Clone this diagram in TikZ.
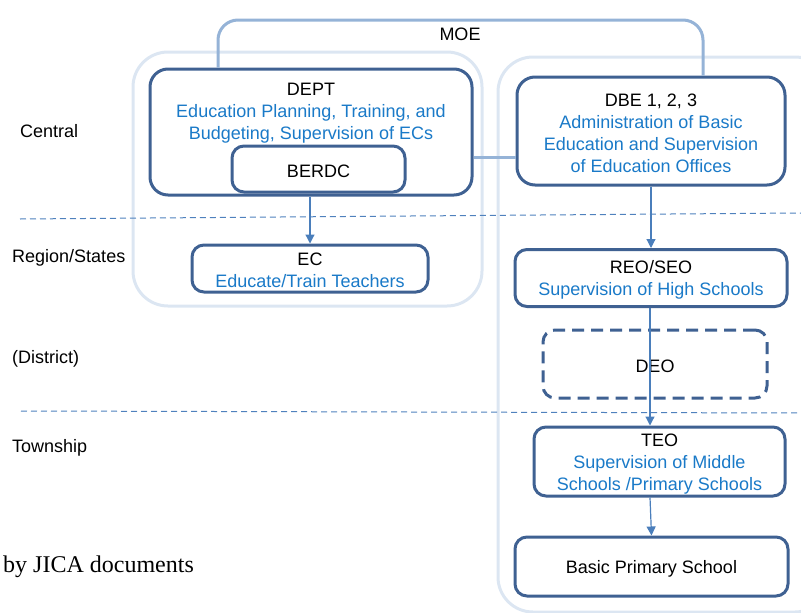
\documentclass[tikz,border=0pt]{standalone}
\usepackage{fontspec}
\setmainfont{Liberation Sans}
\newfontfamily\seriffont{Liberation Serif}
\usetikzlibrary{arrows.meta}
\definecolor{boxc}{HTML}{3F6192}
\definecolor{txtb}{HTML}{1A7AC8}
\definecolor{contc}{HTML}{DCE6F2}
\definecolor{moec}{HTML}{95B3D7}
\definecolor{arrc}{HTML}{4A7EBB}
\definecolor{sepc}{HTML}{4F81BD}
\newcommand{\tup}{\rule{0pt}{17pt}}
\begin{document}
\begin{tikzpicture}[x=1pt,y=-1pt,font=\fontsize{18}{22}\selectfont,
  box/.style={draw=boxc,line width=3pt,rounded corners=12pt,fill=white,align=center,inner sep=0pt},
  bigbox/.style={box,rounded corners=18pt},
  dashbox/.style={box,fill=none,dash pattern=on 12pt off 7pt},
  cont/.style={draw=contc,line width=3pt,rounded corners=35pt},
  moeline/.style={draw=moec,line width=3pt,rounded corners=20pt},
  arr/.style={draw=arrc,line width=1.2pt,-{Triangle[width=9pt,length=9pt]}},
  sep/.style={draw=sepc,line width=1pt,dash pattern=on 6pt off 4pt},
  lvl/.style={anchor=west,inner sep=0pt}]
\useasboundingbox (0,0) rectangle (801,613);
\begin{scope}
\clip (0,0) rectangle (801,613);
\draw[cont] (133,52) rectangle (482,306);
\draw[cont] (498,57) rectangle (830,612);
\end{scope}
% boxes
\node[bigbox,minimum width=322pt,minimum height=126pt] (dept) at (311,132) {};
\node[align=center,inner sep=0pt] (depttxt) at (311,111) {\tup DEPT\\\textcolor{txtb}{Education Planning, Training, and}\\\textcolor{txtb}{Budgeting, Supervision of ECs}};
\node[box,minimum width=173pt,minimum height=46pt] (berdc) at (318.5,169) {\tup BERDC};
\node[box,minimum width=236pt,minimum height=47pt] (ec) at (310,268.5) {\tup EC\\\textcolor{txtb}{Educate/Train Teachers}};
\node[bigbox,minimum width=268pt,minimum height=108pt] (dbe) at (651,131) {\tup DBE 1, 2, 3\\\textcolor{txtb}{Administration of Basic}\\\textcolor{txtb}{Education and Supervision}\\\textcolor{txtb}{of Education Offices}};
\node[box,minimum width=272pt,minimum height=57pt] (reo) at (651,278) {\tup REO/SEO\\\textcolor{txtb}{Supervision of High Schools}};
\node[dashbox,minimum width=224pt,minimum height=68pt] (deo) at (655,364) {\tup DEO};
\node[box,minimum width=251pt,minimum height=69pt] (teo) at (659.5,461.5) {\tup TEO\\\textcolor{txtb}{Supervision of Middle}\\\textcolor{txtb}{Schools /Primary Schools}};
\node[box,minimum width=273pt,minimum height=59pt] (bps) at (651.5,566.5) {\tup Basic Primary School};
% MOE frame
\coordinate (mL) at (218,20);
\coordinate (mR) at (703,20);
\draw[moeline] (mL |- dept.north) -- (mL) -- (mR) -- (mR |- dbe.north);
\node[inner sep=0pt] (moe) at (460,34) {MOE};
\draw[draw=moec,line width=3pt] (dept.east |- 0,157) -- (dbe.west |- 0,157);
% separators
\coordinate (s1a) at (20,219);
\coordinate (s1b) at (801,213);
\coordinate (s2a) at (21,411);
\coordinate (s2b) at (801,413);
\draw[sep] (s1a) -- (s1b);
\draw[sep] (s2a) -- (s2b);
% arrows
\draw[arr] (dept.south -| 310,0) -- (ec.north -| 310,0);
\draw[arr] (dbe.south) -- (reo.north);
\coordinate (tA) at (650,0);
\draw[arr] (reo.south -| tA) -- (teo.north -| tA);
\draw[arr] (teo.south -| tA) -- (bps.north);
% level labels
\node[lvl] (central) at (20,131) {Central};
\node[lvl] (region) at (12,258) {Region/States};
\node[lvl] (district) at (12,359) {(District)};
\node[lvl] (township) at (12,448) {Township};
\node[lvl,font=\seriffont\fontsize{24}{28}\selectfont] (src) at (3,567) {by JICA documents};
\end{tikzpicture}
\end{document}
